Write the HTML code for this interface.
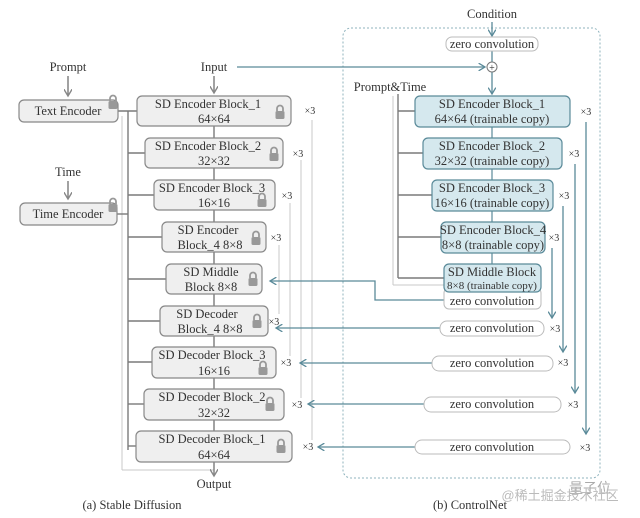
<!DOCTYPE html>
<html><head><meta charset="utf-8"><style>
body{margin:0;background:#fff}
svg{display:block}
text{font-family:"Liberation Serif",serif;font-size:12.5px;fill:#333;text-anchor:middle}
.s{font-size:10px}
</style></head><body>
<svg width="640" height="518" viewBox="0 0 640 518" xmlns="http://www.w3.org/2000/svg">
<defs>
<marker id="ag" markerWidth="6" markerHeight="6" refX="5" refY="3" orient="auto"><path d="M0,0 L5,3 L0,6" fill="none" stroke="#888" stroke-width="1"/></marker>
<marker id="at" markerWidth="6" markerHeight="6" refX="5" refY="3" orient="auto"><path d="M0,0 L5,3 L0,6" fill="none" stroke="#5a8a99" stroke-width="1"/></marker>
<g id="lock"><rect x="-4.5" y="-1" width="9" height="8" rx="1.5" fill="#999"/><path d="M-3,-1 V-3.5 A3,3 0 0 1 3,-3.5 V-1" fill="none" stroke="#999" stroke-width="1.8"/></g>
</defs>

<rect x="343" y="28" width="257" height="450" rx="8" fill="none" stroke="#8fb3bd" stroke-dasharray="2,2"/>

<g stroke="#c8c8c8" stroke-width="1" fill="none">
<line x1="312" y1="120" x2="312" y2="440"/>
<line x1="301" y1="160" x2="301" y2="398"/>
<line x1="290" y1="203" x2="290" y2="356"/>
<line x1="279" y1="245" x2="279" y2="314"/>
<line x1="122" y1="116" x2="122" y2="470"/>
<line x1="122" y1="470" x2="214" y2="470"/>
<line x1="393" y1="96" x2="393" y2="285"/>
<line x1="393" y1="285" x2="444" y2="285"/>
</g>
<g stroke="#7a7a7a" stroke-width="1.4" fill="none">
<line x1="118" y1="111" x2="137" y2="111"/>
<line x1="117" y1="214" x2="128" y2="214"/>
<line x1="128" y1="111" x2="128" y2="450"/>
<line x1="128" y1="153" x2="145" y2="153"/>
<line x1="128" y1="195" x2="154" y2="195"/>
<line x1="128" y1="237" x2="162" y2="237"/>
<line x1="128" y1="279" x2="166" y2="279"/>
<line x1="128" y1="321" x2="160" y2="321"/>
<line x1="128" y1="362" x2="152" y2="362"/>
<line x1="128" y1="404" x2="144" y2="404"/>
<line x1="128" y1="446" x2="136" y2="446"/>
<line x1="214" y1="126" x2="214" y2="431"/>
<line x1="398" y1="94" x2="398" y2="278"/>
<line x1="398" y1="111" x2="415" y2="111"/>
<line x1="398" y1="153" x2="423" y2="153"/>
<line x1="398" y1="195" x2="432" y2="195"/>
<line x1="398" y1="237" x2="441" y2="237"/>
<line x1="398" y1="278" x2="444" y2="278"/>
<line x1="68" y1="76" x2="68" y2="96" marker-end="url(#ag)"/>
<line x1="68" y1="181" x2="68" y2="199" marker-end="url(#ag)"/>
<line x1="214" y1="76" x2="214" y2="93" marker-end="url(#ag)"/>
<line x1="214" y1="462" x2="214" y2="476" marker-end="url(#ag)"/>
</g>
<line x1="492" y1="127" x2="492" y2="264" stroke="#5a8a99" stroke-width="1.2"/>

<g fill="#efefef" stroke="#888" stroke-width="1.2">
<rect x="19" y="100" width="99" height="22" rx="5"/>
<rect x="20" y="203" width="97" height="22" rx="5"/>
<rect x="137" y="96" width="154" height="30" rx="5"/>
<rect x="145" y="138" width="138" height="30" rx="5"/>
<rect x="154" y="180" width="121" height="30" rx="5"/>
<rect x="162" y="222" width="104" height="30" rx="5"/>
<rect x="166" y="264" width="96" height="30" rx="5"/>
<rect x="160" y="306" width="108" height="30" rx="5"/>
<rect x="152" y="347" width="124" height="31" rx="5"/>
<rect x="144" y="389" width="140" height="31" rx="5"/>
<rect x="136" y="431" width="156" height="31" rx="5"/>
</g>
<use href="#lock" x="113" y="102"/>
<use href="#lock" x="113" y="205"/>
<use href="#lock" x="280" y="112"/>
<use href="#lock" x="274" y="154"/>
<use href="#lock" x="262" y="200"/>
<use href="#lock" x="256" y="238"/>
<use href="#lock" x="253" y="279"/>
<use href="#lock" x="257" y="321"/>
<use href="#lock" x="263" y="368"/>
<use href="#lock" x="270" y="404"/>
<use href="#lock" x="281" y="446"/>

<text x="68" y="71">Prompt</text>
<text x="68" y="115">Text Encoder</text>
<text x="68" y="176">Time</text>
<text x="68" y="218">Time Encoder</text>
<text x="214" y="71">Input</text>
<text x="208" y="108">SD Encoder Block_1</text><text x="214" y="123">64×64</text>
<text x="208" y="150">SD Encoder Block_2</text><text x="214" y="165">32×32</text>
<text x="212" y="192">SD Encoder Block_3</text><text x="214" y="207">16×16</text>
<text x="208" y="234">SD Encoder</text><text x="210" y="249">Block_4 8×8</text>
<text x="211" y="276">SD Middle</text><text x="211" y="291">Block 8×8</text>
<text x="207" y="318">SD Decoder</text><text x="210" y="333">Block_4 8×8</text>
<text x="212" y="359">SD Decoder Block_3</text><text x="214" y="375">16×16</text>
<text x="212" y="401">SD Decoder Block_2</text><text x="214" y="417">32×32</text>
<text x="212" y="443">SD Decoder Block_1</text><text x="214" y="459">64×64</text>
<text x="214" y="488">Output</text>
<text class="s" x="310" y="114">×3</text><text class="s" x="298" y="157">×3</text><text class="s" x="287" y="199">×3</text><text class="s" x="276" y="241">×3</text>
<text class="s" x="274" y="325">×3</text><text class="s" x="286" y="366">×3</text><text class="s" x="297" y="408">×3</text><text class="s" x="308" y="450">×3</text>

<text x="492" y="18">Condition</text>
<g stroke="#5a8a99" stroke-width="1.3" fill="none">
<line x1="492" y1="22" x2="492" y2="36" marker-end="url(#at)"/>
<line x1="492" y1="51" x2="492" y2="62"/>
<line x1="237" y1="67" x2="485" y2="67" marker-end="url(#at)"/>
<line x1="492" y1="72" x2="492" y2="94" marker-end="url(#at)"/>
<polyline points="444,300 375,300 375,281 270,281" marker-end="url(#at)"/>
<line x1="440" y1="328" x2="276" y2="328" marker-end="url(#at)"/>
<line x1="432" y1="363" x2="300" y2="363" marker-end="url(#at)"/>
<line x1="424" y1="404" x2="308" y2="404" marker-end="url(#at)"/>
<line x1="415" y1="447" x2="318" y2="447" marker-end="url(#at)"/>
<line x1="552" y1="248" x2="552" y2="318" marker-end="url(#at)"/>
<line x1="563" y1="206" x2="563" y2="352" marker-end="url(#at)"/>
<line x1="575" y1="164" x2="575" y2="393" marker-end="url(#at)"/>
<line x1="586" y1="122" x2="586" y2="434" marker-end="url(#at)"/>
</g>
<circle cx="492" cy="67" r="5" fill="#fff" stroke="#777"/>
<text x="492" y="71" style="font-size:10px">+</text>
<g fill="#fff" stroke="#bbb" stroke-width="1">
<rect x="446" y="37" width="92" height="14" rx="6"/>
<rect x="444" y="288" width="97" height="21" rx="5"/>
<rect x="440" y="321" width="104" height="15" rx="7"/>
<rect x="432" y="356" width="121" height="15" rx="7"/>
<rect x="424" y="397" width="137" height="15" rx="7"/>
<rect x="415" y="440" width="155" height="14" rx="7"/>
</g>
<g fill="#d5e8ee" stroke="#5a8a99" stroke-width="1.2">
<rect x="415" y="96" width="155" height="31" rx="5"/>
<rect x="423" y="138" width="139" height="31" rx="5"/>
<rect x="432" y="180" width="121" height="31" rx="5"/>
<rect x="441" y="222" width="104" height="31" rx="5"/>
<rect x="444" y="264" width="97" height="28" rx="5"/>
</g>
<text x="390" y="91">Prompt&amp;Time</text>
<text x="492" y="48">zero convolution</text>
<text x="492" y="108">SD Encoder Block_1</text><text x="492" y="123">64×64 (trainable copy)</text>
<text x="492" y="150">SD Encoder Block_2</text><text x="492" y="165">32×32 (trainable copy)</text>
<text x="492" y="192">SD Encoder Block_3</text><text x="492" y="207">16×16 (trainable copy)</text>
<text x="493" y="234">SD Encoder Block_4</text><text x="493" y="249">8×8 (trainable copy)</text>
<text x="492" y="276">SD Middle Block</text><text x="492" y="289" style="font-size:11px">8×8 (trainable copy)</text>
<text x="492" y="305">zero convolution</text>
<text x="492" y="332">zero convolution</text>
<text x="492" y="367">zero convolution</text>
<text x="492" y="408">zero convolution</text>
<text x="492" y="451">zero convolution</text>
<text class="s" x="586" y="115">×3</text><text class="s" x="574" y="157">×3</text><text class="s" x="564" y="199">×3</text><text class="s" x="554" y="241">×3</text>
<text class="s" x="555" y="332">×3</text><text class="s" x="563" y="366">×3</text><text class="s" x="573" y="408">×3</text><text class="s" x="585" y="451">×3</text>

<text x="132" y="509">(a) Stable Diffusion</text>
<text x="470" y="509">(b) ControlNet</text>
<text x="590" y="493" style="font-family:'Noto Sans CJK SC',sans-serif;font-size:14px;fill:#aaa">量子位</text>
<text x="560" y="500" style="font-family:'Liberation Sans','Noto Sans CJK SC',sans-serif;font-size:13px;fill:#bbb">@稀土掘金技术社区</text>
</svg>
</body></html>
